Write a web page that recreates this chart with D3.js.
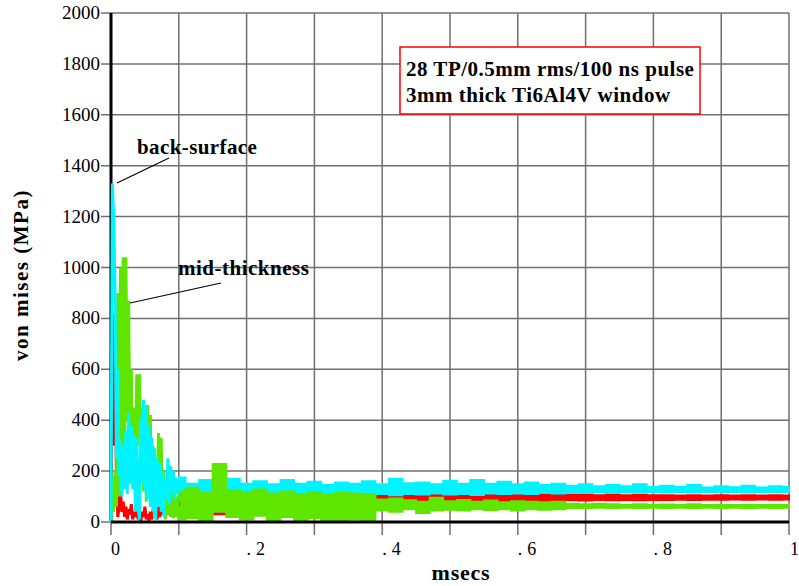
<!DOCTYPE html>
<html>
<head>
<meta charset="utf-8">
<script src="https://cdn.jsdelivr.net/npm/d3@7"></script>
<style>
  body { margin: 0; background: #fff; }
  svg { display: block; }
  text { font-family: "Liberation Serif", "Times New Roman", serif; fill: #000; }
</style>
</head>
<body>
<div class="container"></div>
<script>
// tick labels
const xTickVals = [0, 0.2, 0.4, 0.6, 0.8, 1];
const xTickText = ["0", ".2", ".4", ".6", ".8", "1"];
const yTickVals = [0, 200, 400, 600, 800, 1000, 1200, 1400, 1600, 1800, 2000];

// early transient, msecs 0 .. 0.1 (MPa)
const earlyT = [0,0.002,0.004,0.006,0.008,0.010,0.012,0.014,0.016,0.018,0.020,0.022,0.024,0.026,0.028,0.030,0.032,0.034,0.036,0.038,0.040,0.042,0.044,0.046,0.048,0.050,0.052,0.054,0.056,0.058,0.060,0.062,0.064,0.066,0.068,0.070,0.072,0.074,0.076,0.078,0.080,0.082,0.084,0.086,0.088,0.090,0.092,0.094,0.096,0.098,0.100];
const cyanEarly = [0,1330,1200,900,250,600,180,320,100,300,130,360,110,430,150,380,130,340,40,330,60,10,410,150,480,120,460,90,380,60,330,40,290,10,250,60,230,40,200,20,170,90,250,70,220,110,200,90,175,110,160];
const greenEarly = [0,180,40,200,60,900,100,1000,300,1040,200,1040,400,870,250,600,150,450,250,580,300,580,200,450,120,400,80,460,150,420,60,300,20,250,100,350,150,330,50,200,10,150,30,130,20,120,15,110,20,100,10];
const redEarly = [0,820,300,690,180,20,60,120,40,80,20,60,10,50,30,70,10,40,20,60,10,30,5,40,20,60,10,30,5,40,10,50,20,40,10,60,20,50,30,60,20,70,30,60,20,80,40,70,30,90,60];

// later noise band: envelope of each trace, msecs 0.1 .. 1
const bandT = [0.10,0.12,0.14,0.16,0.18,0.20,0.22,0.24,0.26,0.28,0.30,0.32,0.34,0.36,0.38,0.40,0.42,0.44,0.46,0.48,0.50,0.52,0.54,0.56,0.58,0.60,0.62,0.64,0.66,0.68,0.70,0.72,0.74,0.76,0.78,0.80,0.82,0.84,0.86,0.88,0.90,0.92,0.94,0.96,0.98,1.00];
const cyanHi = [175,150,165,160,170,150,160,148,165,150,158,145,155,150,160,148,170,152,155,148,162,150,165,150,158,148,155,145,150,142,148,140,145,140,148,138,142,138,145,136,140,137,142,136,140,138];
const cyanLo = [95,100,98,104,100,106,102,108,104,106,108,105,110,106,108,110,105,110,108,112,108,110,106,112,110,112,110,114,112,115,114,116,114,116,115,117,116,118,116,118,117,118,116,118,117,118];
const greenHi = [120,135,115,228,125,118,128,112,120,110,118,108,115,112,110,88,92,85,80,95,82,86,80,84,78,82,80,78,80,72,70,72,70,68,70,68,69,68,70,67,68,67,68,67,68,67];
const greenLo = [10,15,5,40,20,10,25,8,20,5,15,5,0,10,5,45,40,50,35,45,48,45,50,47,50,45,50,48,50,55,55,56,55,56,55,56,55,56,55,56,55,56,55,56,55,56];
const redHi = [110,105,110,95,100,105,100,108,104,106,108,105,108,106,108,110,112,108,110,112,110,108,110,108,110,108,107,108,106,107,106,105,106,105,106,105,105,104,105,104,105,104,105,104,105,104];
const redLo = [30,40,35,30,45,55,50,60,55,65,75,70,78,75,78,75,78,80,76,80,80,82,80,82,83,82,84,83,84,85,84,86,85,86,85,86,86,87,86,87,87,88,87,88,87,88];

const w = 799, h = 586;
const svg = d3.select(".container").append("svg").attr("width", w).attr("height", h);

const x = d3.scaleLinear().domain([0, 1]).range([111, 789]);
const y = d3.scaleLinear().domain([0, 2000]).range([522, 13]);

const gridColor = "#707070";

// grid
svg.append("g").selectAll("line")
  .data(d3.range(0, 11).map(i => i / 10))
  .enter().append("line")
  .attr("x1", d => x(d)).attr("x2", d => x(d))
  .attr("y1", y(2000)).attr("y2", y(0) + 13)
  .attr("stroke", gridColor).attr("stroke-width", 1.5);
svg.append("g").selectAll("line")
  .data(yTickVals)
  .enter().append("line")
  .attr("x1", x(0) - 10).attr("x2", x(1))
  .attr("y1", d => y(d)).attr("y2", d => y(d))
  .attr("stroke", gridColor).attr("stroke-width", 1.5);

// y axis line
svg.append("line").attr("x1", x(0)).attr("x2", x(0)).attr("y1", y(2000)).attr("y2", y(0))
  .attr("stroke", "#000").attr("stroke-width", 3);

// tick labels
svg.append("g").selectAll("text")
  .data(yTickVals)
  .enter().append("text")
  .attr("x", x(0) - 11).attr("y", d => y(d) + 6)
  .attr("text-anchor", "end").attr("font-size", 19)
  .text(d => d);
svg.append("g").selectAll("text")
  .data(xTickVals)
  .enter().append("text")
  .attr("x", d => x(d) + (d === 1 ? 1 : 0)).attr("y", 555)
  .attr("font-size", 18).attr("letter-spacing", (d, i) => xTickText[i].length > 1 ? 5 : 0)
  .text((d, i) => xTickText[i]);

// traces
const line = d3.line().x((d, i) => x(earlyT[i])).y(d => y(d));
const band = (hi, lo) => d3.area()
  .curve(d3.curveStep)
  .x(d => x(d))
  .y0((d, i) => y(lo[i]))
  .y1((d, i) => y(hi[i]))(bandT);

const series = [
  { name: "front", early: redEarly, hi: redHi, lo: redLo, color: "#ff0000" },
  { name: "back-surface", early: cyanEarly, hi: cyanHi, lo: cyanLo, color: "#00f4ff" },
  { name: "mid-thickness", early: greenEarly, hi: greenHi, lo: greenLo, color: "#5ee600" }
];
series.forEach(s => {
  svg.append("path").attr("d", band(s.hi, s.lo))
    .attr("fill", s.color).attr("stroke", s.color).attr("stroke-width", 2);
});
[series[0], series[2], series[1]].forEach(s => {
  svg.append("path").attr("d", line(s.early))
    .attr("fill", "none").attr("stroke", s.color).attr("stroke-width", 3)
    .attr("stroke-linejoin", "bevel");
});

// x axis line
svg.append("line").attr("x1", x(0)).attr("x2", x(1)).attr("y1", y(0)).attr("y2", y(0))
  .attr("stroke", "#000").attr("stroke-width", 3);

// axis titles
svg.append("text").attr("x", 461).attr("y", 580).attr("text-anchor", "middle")
  .attr("font-size", 22).attr("font-weight", "bold").attr("letter-spacing", 0.8).text("msecs");
svg.append("text").attr("transform", "translate(28,275) rotate(-90)").attr("text-anchor", "middle")
  .attr("font-size", 21).attr("font-weight", "bold").attr("letter-spacing", 1.5).text("von mises (MPa)");

// annotation box
svg.append("rect").attr("x", 400).attr("y", 47).attr("width", 300).attr("height", 67)
  .attr("fill", "#fff").attr("stroke", "#ff0000").attr("stroke-width", 1.5);
svg.append("text").attr("x", 406).attr("y", 76).attr("font-size", 21).attr("font-weight", "bold")
  .attr("letter-spacing", 0.5).text("28 TP/0.5mm rms/100 ns pulse");
svg.append("text").attr("x", 406).attr("y", 102).attr("font-size", 21).attr("font-weight", "bold")
  .attr("letter-spacing", 0.5).text("3mm thick Ti6Al4V window");

// labels with leaders
svg.append("text").attr("x", 137).attr("y", 154).attr("font-size", 21).attr("font-weight", "bold")
  .attr("letter-spacing", 0.4).text("back-surface");
svg.append("line").attr("x1", 117).attr("y1", 183).attr("x2", 169).attr("y2", 158).attr("stroke", "#000").attr("stroke-width", 1.2);
svg.append("text").attr("x", 178).attr("y", 275).attr("font-size", 21).attr("font-weight", "bold")
  .attr("letter-spacing", 0.5).text("mid-thickness");
svg.append("line").attr("x1", 130).attr("y1", 303).attr("x2", 221).attr("y2", 283).attr("stroke", "#000").attr("stroke-width", 1.2);
</script>
</body>
</html>
